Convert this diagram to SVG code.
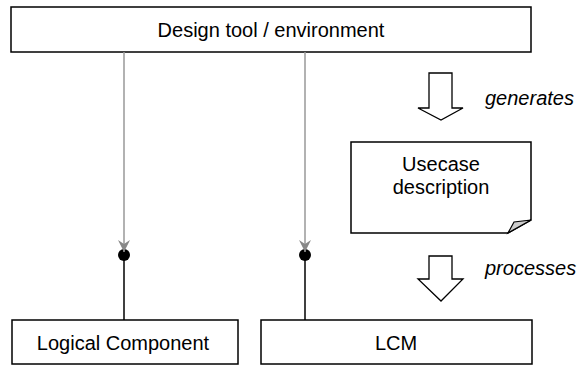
<svg xmlns="http://www.w3.org/2000/svg" width="577" height="368" viewBox="0 0 577 368">
<style>
.box{fill:#fff;stroke:#000;stroke-width:1.5}
.t{font-family:"Liberation Sans",Arial,sans-serif;font-size:20px;fill:#000;text-anchor:middle}
.it{font-family:"Liberation Sans",Arial,sans-serif;font-size:20px;font-style:italic;fill:#000}
.gray{stroke:#999;stroke-width:1.5;fill:none}
.blk{stroke:#000;stroke-width:1.5;fill:none}
.barrow{fill:#fff;stroke:#000;stroke-width:1.3}
</style>
<defs>
<marker id="ah" markerWidth="14" markerHeight="14" refX="12" refY="6" orient="auto" markerUnits="userSpaceOnUse">
<path d="M0,0 L12,6 L0,12 L4,6 Z" fill="#888"/>
</marker>
</defs>
<g id="design-tool">
<rect class="box" x="11" y="7" width="520" height="45"/>
<text class="t" x="271" y="37">Design tool / environment</text>
</g>
<g id="usecase">
<path class="box" d="M351,142 H531 V220 L508,233 H351 Z"/>
<path d="M531,220 L508,233 L514,222 Z" fill="#ccc" stroke="#000" stroke-width="1.2"/>
<text class="t" x="441" y="171">Usecase</text>
<text class="t" x="441" y="194">description</text>
</g>
<g id="logical-component">
<rect class="box" x="12" y="320" width="226" height="44"/>
<text class="t" x="123" y="350">Logical Component</text>
</g>
<g id="lcm">
<rect class="box" x="261" y="320" width="271" height="44"/>
<text class="t" x="396" y="350">LCM</text>
</g>
<g id="connectors">
<line class="blk" x1="124" y1="255" x2="124" y2="320"/>
<line class="blk" x1="305" y1="255" x2="305" y2="320"/>
<circle cx="124" cy="255" r="6" fill="#000"/>
<circle cx="305" cy="255" r="6" fill="#000"/>
<line class="gray" x1="124" y1="52" x2="124" y2="252" marker-end="url(#ah)"/>
<line class="gray" x1="305" y1="52" x2="305" y2="252" marker-end="url(#ah)"/>
<path class="barrow" d="M429,73 H452 V108 H463 L441,120 L418,108 H429 Z"/>
<text class="it" x="485" y="105">generates</text>
<path class="barrow" d="M429,256 H452 V279 H463 L441,301 L418,279 H429 Z"/>
<text class="it" x="485" y="275">processes</text>
</g>
</svg>
